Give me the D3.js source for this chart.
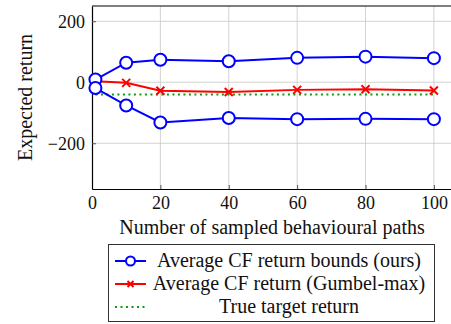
<!DOCTYPE html>
<html>
<head>
<meta charset="utf-8">
<script src="https://cdn.jsdelivr.net/npm/d3@7"></script>
<style>
  body { margin: 0; background: #fff; }
  text { font-family: "Liberation Serif", "DejaVu Serif", serif; }
</style>
</head>
<body>
<div id="chart"></div>
<script>
// data
const paths = [1, 10, 20, 40, 60, 80, 100];
const upperBound = [9, 64, 74, 69, 80, 84, 79];
const lowerBound = [-19, -76, -132, -117, -121, -120, -121];
const gumbelMax = [3, -2, -28, -32, -25, -23, -27];
const trueTarget = [-40, -40, -40, -40, -40, -40, -40];
const xTicks = [0, 20, 40, 60, 80, 100];
const yTicks = [-200, 0, 200];
const legendLabels = ["Average CF return bounds (ours)", "Average CF return (Gumbel-max)", "True target return"];

const W = 451, H = 324;
const margin = { top: 6, right: 0, bottom: 135, left: 92 };
const width = W - margin.left - margin.right;
const height = H - margin.top - margin.bottom;

const svg = d3.select("#chart").append("svg")
  .attr("width", W).attr("height", H);

const g = svg.append("g")
  .attr("transform", "translate(" + margin.left + "," + margin.top + ")");

const x = d3.scaleLinear().domain([0, 105]).range([0, width]);
const y = d3.scaleLinear().domain([-350, 250]).range([height, 0]);

// grid
g.selectAll(".vgrid").data(xTicks.filter(d => d > 0)).enter()
  .append("line")
  .attr("x1", d => x(d)).attr("x2", d => x(d))
  .attr("y1", 0).attr("y2", height)
  .style("stroke", "#c8c8c8").style("stroke-width", 0.8);
g.selectAll(".hgrid").data(yTicks).enter()
  .append("line")
  .attr("x1", 0).attr("x2", width)
  .attr("y1", d => y(d)).attr("y2", d => y(d))
  .style("stroke", "#c8c8c8").style("stroke-width", 0.8);

// axes (ticks drawn inside like pgfplots)
const xAxis = g.append("g").attr("transform", "translate(0," + height + ")")
  .call(d3.axisBottom(x).tickValues(xTicks).tickSize(-4).tickPadding(7).tickSizeOuter(0));
const yAxis = g.append("g")
  .call(d3.axisLeft(y).tickValues(yTicks).tickSize(-4).tickPadding(7).tickSizeOuter(0)
    .tickFormat(d => d < 0 ? "\u2212" + Math.abs(d) : d));
[xAxis, yAxis].forEach(a => {
  a.select(".domain").style("stroke", "#000").style("stroke-width", 1.2);
  a.selectAll(".tick line").style("stroke", "#555");
  a.selectAll("text").style("font-size", "18px").style("fill", "#111")
    .style("font-family", "'Liberation Serif', serif");
});
// top border
g.append("line").attr("x1", 0).attr("x2", width).attr("y1", 0).attr("y2", 0)
  .style("stroke", "#000").style("stroke-width", 1.2);

const line = d3.line().x((d, i) => x(paths[i])).y(d => y(d));

// true target
g.append("path").datum(trueTarget).attr("d", line)
  .style("fill", "none").style("stroke", "#119911").style("stroke-width", 2)
  .style("stroke-dasharray", "2,3.5");

// Gumbel-max
g.append("path").datum(gumbelMax).attr("d", line)
  .style("fill", "none").style("stroke", "#ff0000").style("stroke-width", 2);
g.selectAll(".cross").data(gumbelMax).enter()
  .append("path")
  .attr("transform", (d, i) => "translate(" + x(paths[i]) + "," + y(d) + ")")
  .attr("d", "M-4,-4L4,4M-4,4L4,-4")
  .style("stroke", "#ff0000").style("stroke-width", 2);

// bounds
[upperBound, lowerBound].forEach(series => {
  g.append("path").datum(series).attr("d", line)
    .style("fill", "none").style("stroke", "#0000ff").style("stroke-width", 2);
  g.selectAll(null).data(series).enter()
    .append("circle")
    .attr("cx", (d, i) => x(paths[i])).attr("cy", d => y(d)).attr("r", 6)
    .style("fill", "#fff").style("stroke", "#0000ff").style("stroke-width", 2);
});

// axis labels
svg.append("text")
  .attr("x", 272).attr("y", 234)
  .attr("text-anchor", "middle").style("font-size", "20px").style("fill", "#111")
  .text("Number of sampled behavioural paths");
svg.append("text")
  .attr("transform", "translate(32," + (margin.top + height / 2) + ") rotate(-90)")
  .attr("text-anchor", "middle").style("font-size", "20px").style("fill", "#111")
  .text("Expected return");

// legend
const leg = svg.append("g");
leg.append("rect").attr("x", 108.5).attr("y", 244.5).attr("width", 326).attr("height", 77)
  .style("fill", "#fff").style("stroke", "#333").style("stroke-width", 1);
const rowsY = [261, 284, 307];
legendLabels.forEach((lab, i) => {
  leg.append("text").attr("x", 289).attr("y", rowsY[i] + 6)
    .attr("text-anchor", "middle").style("font-size", "20px").style("fill", "#111")
    .text(lab);
});
leg.append("line").attr("x1", 115).attr("x2", 146).attr("y1", rowsY[0]).attr("y2", rowsY[0])
  .style("stroke", "#0000ff").style("stroke-width", 2);
leg.append("circle").attr("cx", 130.5).attr("cy", rowsY[0]).attr("r", 4.5)
  .style("fill", "#fff").style("stroke", "#0000ff").style("stroke-width", 2);
leg.append("line").attr("x1", 115).attr("x2", 146).attr("y1", rowsY[1]).attr("y2", rowsY[1])
  .style("stroke", "#ff0000").style("stroke-width", 2);
leg.append("path").attr("transform", "translate(130.5," + rowsY[1] + ")")
  .attr("d", "M-3,-3L3,3M-3,3L3,-3").style("stroke", "#ff0000").style("stroke-width", 2);
leg.append("line").attr("x1", 115).attr("x2", 146).attr("y1", rowsY[2]).attr("y2", rowsY[2])
  .style("stroke", "#119911").style("stroke-width", 2).style("stroke-dasharray", "2,3.5");
</script>
</body>
</html>
